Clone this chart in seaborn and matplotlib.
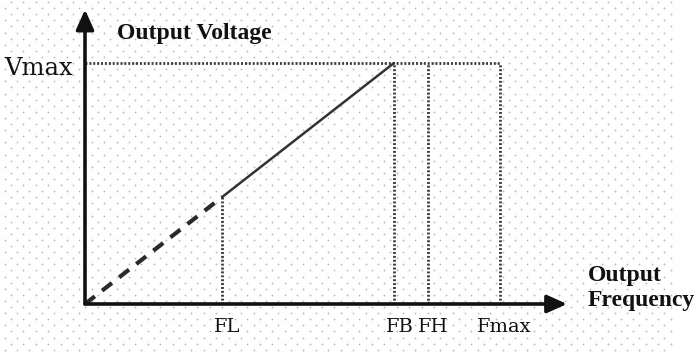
import numpy as np
import matplotlib
matplotlib.use('Agg')
import matplotlib.pyplot as plt
import seaborn as sns
import pandas as pd

# frequency points (relative units) and voltage
freq_names = ['FL', 'FB', 'FH', 'Fmax']
freq_vals = [40, 90, 100, 121]
vmax = 1.0

sns.set_theme(style='white')
plt.rcParams['font.family'] = ['Liberation Serif', 'DejaVu Serif']

W, H = 699, 355
fig = plt.figure(figsize=(W / 100, H / 100), dpi=100)

# background dotted pattern, pixel coordinates
bg = fig.add_axes([0, 0, 1, 1])
bg.set_xlim(0, W)
bg.set_ylim(H, 0)
bg.axis('off')
px, py = [], []
for i, yy in enumerate(np.arange(2, H, 6.1)):
    x0 = 608.3 - 12.45 * 49 if i % 2 == 0 else 602.1 - 12.45 * 49
    for xx in np.arange(x0, 676, 12.45):
        if xx > 0:
            px.append(xx)
            py.append(yy)
bg.scatter(px, py, s=1.8, color='#bdbdbd', linewidths=0, zorder=0)

# main axes placed by pixels: origin at (85, 304), FB at x=394, Vmax at y=63
ox, oy = 85, 304
sx = (394 - ox) / freq_vals[1]
sy = (oy - 63) / vmax
xmax = (567 - ox) / sx
ymax = (oy - 12) / sy
ax = fig.add_axes([ox / W, (H - oy) / H, (567 - ox) / W, (oy - 12) / H])
ax.patch.set_alpha(0)
ax.set_xlim(0, xmax)
ax.set_ylim(0, ymax)
for s in ax.spines.values():
    s.set_visible(False)

fl, fb, fh, fm = freq_vals
v_fl = vmax * fl / fb

dash = pd.DataFrame({'f': [0, fl], 'v': [0, v_fl]})
solid = pd.DataFrame({'f': [fl, fb], 'v': [v_fl, vmax]})
sns.lineplot(data=dash, x='f', y='v', ax=ax, color='#2a2a2a', lw=3,
             linestyle=(0, (3.0, 2.2)), zorder=3)
sns.lineplot(data=solid, x='f', y='v', ax=ax, color='#333333', lw=1.8, zorder=3)

dot_kw = dict(color='#3a3a3a', lw=2.0, linestyle=(0, (0.7, 0.7)), zorder=2)
ax.plot([0, fm], [vmax, vmax], **dot_kw)
ax.plot([fl, fl], [0, v_fl], **dot_kw)
for f in [fb, fh, fm]:
    ax.plot([f, f], [0, vmax], **dot_kw)

# axes with arrows
ax.annotate('', xy=(xmax, 0), xytext=(0, 0),
            arrowprops=dict(arrowstyle='-|>,head_length=1.0,head_width=0.45',
                            color='#111111', lw=2.6, shrinkA=0, shrinkB=0),
            annotation_clip=False, zorder=4)
ax.annotate('', xy=(0, ymax + 0.01), xytext=(0, 0),
            arrowprops=dict(arrowstyle='-|>,head_length=1.0,head_width=0.45',
                            color='#111111', lw=2.6, shrinkA=0, shrinkB=0),
            annotation_clip=False, zorder=4)

ax.set_xticks([fl + 1.5, fb + 1.8, fh + 1.5, fm + 1.2])
ax.set_xticklabels(freq_names, fontsize=14, family='DejaVu Serif')
ax.set_yticks([vmax - 0.012])
ax.set_yticklabels(['Vmax'], fontsize=17.5, family='DejaVu Serif')
ax.tick_params(axis='x', length=0, pad=10, colors='#111111')
ax.tick_params(axis='y', length=0, pad=9, colors='#111111')
ax.set_xlabel('')
ax.set_ylabel('')

bg.text(117, 34, 'Output Voltage', fontsize=17, fontweight='bold',
        ha='left', va='center', color='#111111')
bg.text(588, 288, 'Output\nFrequency', fontsize=17, fontweight='bold',
        ha='left', va='center', color='#111111', linespacing=1.3)

fig.savefig('out.png', dpi=100)
